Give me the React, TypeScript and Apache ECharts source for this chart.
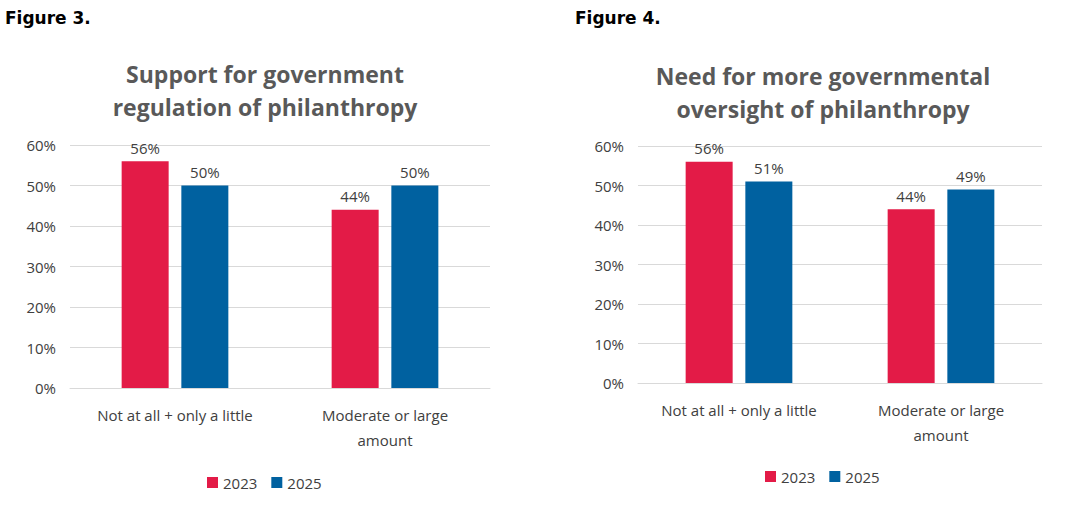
import React, { useEffect, useRef } from 'react';
import * as echarts from 'echarts';

const categories = ['Not at all + only a little', 'Moderate or large\namount'];
const fig3_2023 = [56, 44];
const fig3_2025 = [50, 50];
const fig4_2023 = [56, 44];
const fig4_2025 = [51, 49];
const yTicks = [0, 10, 20, 30, 40, 50, 60];

const RED = '#e31b47';
const BLUE = '#0061a0';

const App: React.FC = () => {
  const chartRef = useRef<HTMLDivElement>(null);

  useEffect(() => {
    document.body.style.margin = '0';
    if (!chartRef.current) return;
    const chart = echarts.init(chartRef.current, undefined, { renderer: 'svg' });

    const axisText = { color: '#404040', fontSize: 15, fontFamily: 'Open Sans' };
    const makeX = (gridIndex: number) => ({
      type: 'category' as const,
      gridIndex,
      data: categories,
      axisTick: { show: false },
      axisLine: { lineStyle: { color: '#d9d9d9' } },
      axisLabel: { ...axisText, interval: 0, lineHeight: 25, margin: 14 },
    });
    const makeY = (gridIndex: number) => ({
      type: 'value' as const,
      gridIndex,
      min: 0,
      max: yTicks[yTicks.length - 1],
      interval: 10,
      axisLabel: { ...axisText, formatter: '{value}%', margin: 14 },
      splitLine: { lineStyle: { color: '#d9d9d9' } },
    });
    const bar = (name: string, data: number[], color: string, idx: number) => ({
      name,
      type: 'bar' as const,
      xAxisIndex: idx,
      yAxisIndex: idx,
      data,
      barWidth: 47,
      barGap: '27%',
      itemStyle: { color },
      label: { show: true, position: 'top', formatter: '{c}%', distance: 6, ...axisText },
    });
    const legendStyle = {
      data: ['2023', '2025'],
      itemWidth: 11,
      itemHeight: 11,
      icon: 'rect',
      itemGap: 14,
      textStyle: { ...axisText },
    };

    chart.setOption({
      animation: false,
      title: [
        { text: 'Figure 3.', left: 0, top: 4, textStyle: { fontFamily: 'DejaVu Sans', fontSize: 17, fontWeight: 'bold', color: '#000' } },
        { text: 'Figure 4.', left: 570, top: 4, textStyle: { fontFamily: 'DejaVu Sans', fontSize: 17, fontWeight: 'bold', color: '#000' } },
        { text: 'Support for government\nregulation of philanthropy', left: 260, textAlign: 'center', top: 52, textStyle: { fontFamily: 'Open Sans', fontSize: 23, fontWeight: 'bold', color: '#595959', lineHeight: 33 } },
        { text: 'Need for more governmental\noversight of philanthropy', left: 818, textAlign: 'center', top: 54, textStyle: { fontFamily: 'Open Sans', fontSize: 23, fontWeight: 'bold', color: '#595959', lineHeight: 33 } },
      ],
      legend: [
        { ...legendStyle, left: 202, top: 470 },
        { ...legendStyle, left: 760, top: 464 },
      ],
      grid: [
        { left: 70, width: 420, top: 145, height: 243 },
        { left: 638, width: 404, top: 146, height: 237 },
      ],
      xAxis: [makeX(0), makeX(1)],
      yAxis: [makeY(0), makeY(1)],
      series: [
        bar('2023', fig3_2023, RED, 0),
        bar('2025', fig3_2025, BLUE, 0),
        bar('2023', fig4_2023, RED, 1),
        bar('2025', fig4_2025, BLUE, 1),
      ],
    });

    return () => chart.dispose();
  }, []);

  return <div ref={chartRef} style={{ width: 1090, height: 508, background: '#fff' }} />;
};

export default App;
